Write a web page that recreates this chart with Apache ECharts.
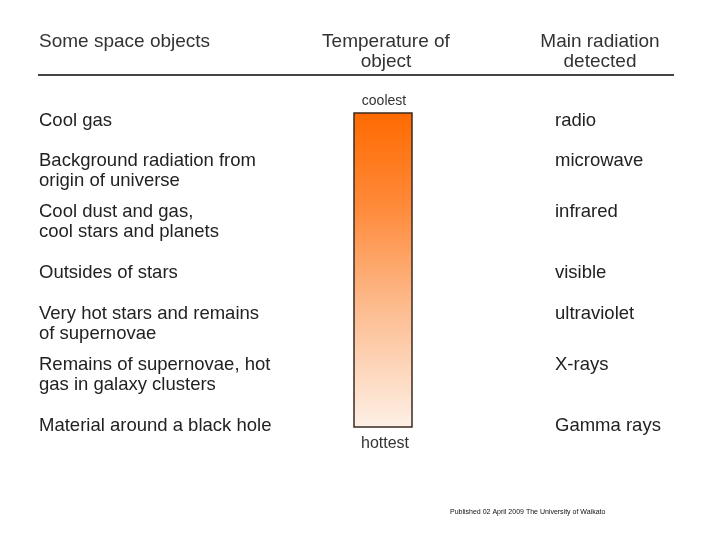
<!DOCTYPE html>
<html>
<head>
<meta charset="utf-8">
<script src="https://cdn.jsdelivr.net/npm/echarts@6/dist/echarts.min.js"></script>
<style>html,body{margin:0;padding:0;background:#fff}#main{width:720px;height:540px}</style>
</head>
<body>
<div id="main"></div>
<script>
var objects = ['Cool gas', 'Background radiation from\norigin of universe', 'Cool dust and gas,\ncool stars and planets',
  'Outsides of stars', 'Very hot stars and remains\nof supernovae', 'Remains of supernovae, hot\ngas in galaxy clusters',
  'Material around a black hole'];
var radiation = ['radio', 'microwave', 'infrared', 'visible', 'ultraviolet', 'X-rays', 'Gamma rays'];
var headers = ['Some space objects', 'Temperature of\nobject', 'Main radiation\ndetected'];
var scaleEnds = ['coolest', 'hottest'];
var footer = 'Published 02 April 2009 The University of Waikato';

var myChart = echarts.init(document.getElementById('main'));
var font = 'Liberation Sans, Arial, sans-serif';
// 右侧标签对齐左侧两行文字的第一行
var radiationLabels = radiation.map(function (r, i) {
    return objects[i].indexOf('\n') >= 0 ? r + '\n ' : r;
});
var option = {
    backgroundColor: '#fff',
    animation: false,
    grid: { left: 353, right: 308, top: 95, bottom: 89 },
    xAxis: { type: 'value', show: false, min: 0, max: 1 },
    yAxis: [
        {   // 左边的天体
            type: 'category', inverse: true, data: objects, position: 'left',
            axisLine: { show: false }, axisTick: { show: false },
            axisLabel: { align: 'left', margin: 314, color: '#222', fontSize: 18.5, fontFamily: font, lineHeight: 20 }
        },
        {   // 右边的辐射
            type: 'category', inverse: true, data: radiationLabels, position: 'right',
            axisLine: { show: false }, axisTick: { show: false },
            axisLabel: { align: 'left', margin: 143, color: '#222', fontSize: 18.5, fontFamily: font, lineHeight: 20 }
        }
    ],
    series: [],
    graphic: [
        {
            type: 'rect', shape: { x: 354, y: 113, width: 58, height: 314 },
            style: {
                stroke: '#3a2a20', lineWidth: 1.5,
                fill: new echarts.graphic.LinearGradient(0, 0, 0, 1, [
                    { offset: 0, color: '#ff6a00' },
                    { offset: 0.3, color: '#ff8a3a' },
                    { offset: 0.6, color: '#fdb98a' },
                    { offset: 1, color: '#fdf0e6' }
                ])
            }
        },
        { type: 'text', left: 39, top: 32, style: { text: headers[0], fill: '#333', fontSize: 19, fontFamily: font } },
        { type: 'text', x: 386, y: 32, style: { text: headers[1], fill: '#333', fontSize: 19, fontFamily: font, align: 'center', lineHeight: 20 } },
        { type: 'text', x: 600, y: 32, style: { text: headers[2], fill: '#333', fontSize: 19, fontFamily: font, align: 'center', lineHeight: 20 } },
        { type: 'line', shape: { x1: 38, y1: 75, x2: 674, y2: 75 }, style: { stroke: '#444', lineWidth: 2 } },
        { type: 'text', x: 384, y: 94, style: { text: scaleEnds[0], fill: '#333', fontSize: 14, fontFamily: font, align: 'center' } },
        { type: 'text', x: 385, y: 436, style: { text: scaleEnds[1], fill: '#333', fontSize: 16, fontFamily: font, align: 'center' } },
        { type: 'text', x: 450, y: 509, style: { text: footer, fill: '#111', fontSize: 7, fontFamily: font } }
    ]
};
myChart.setOption(option);
</script>
</body>
</html>
